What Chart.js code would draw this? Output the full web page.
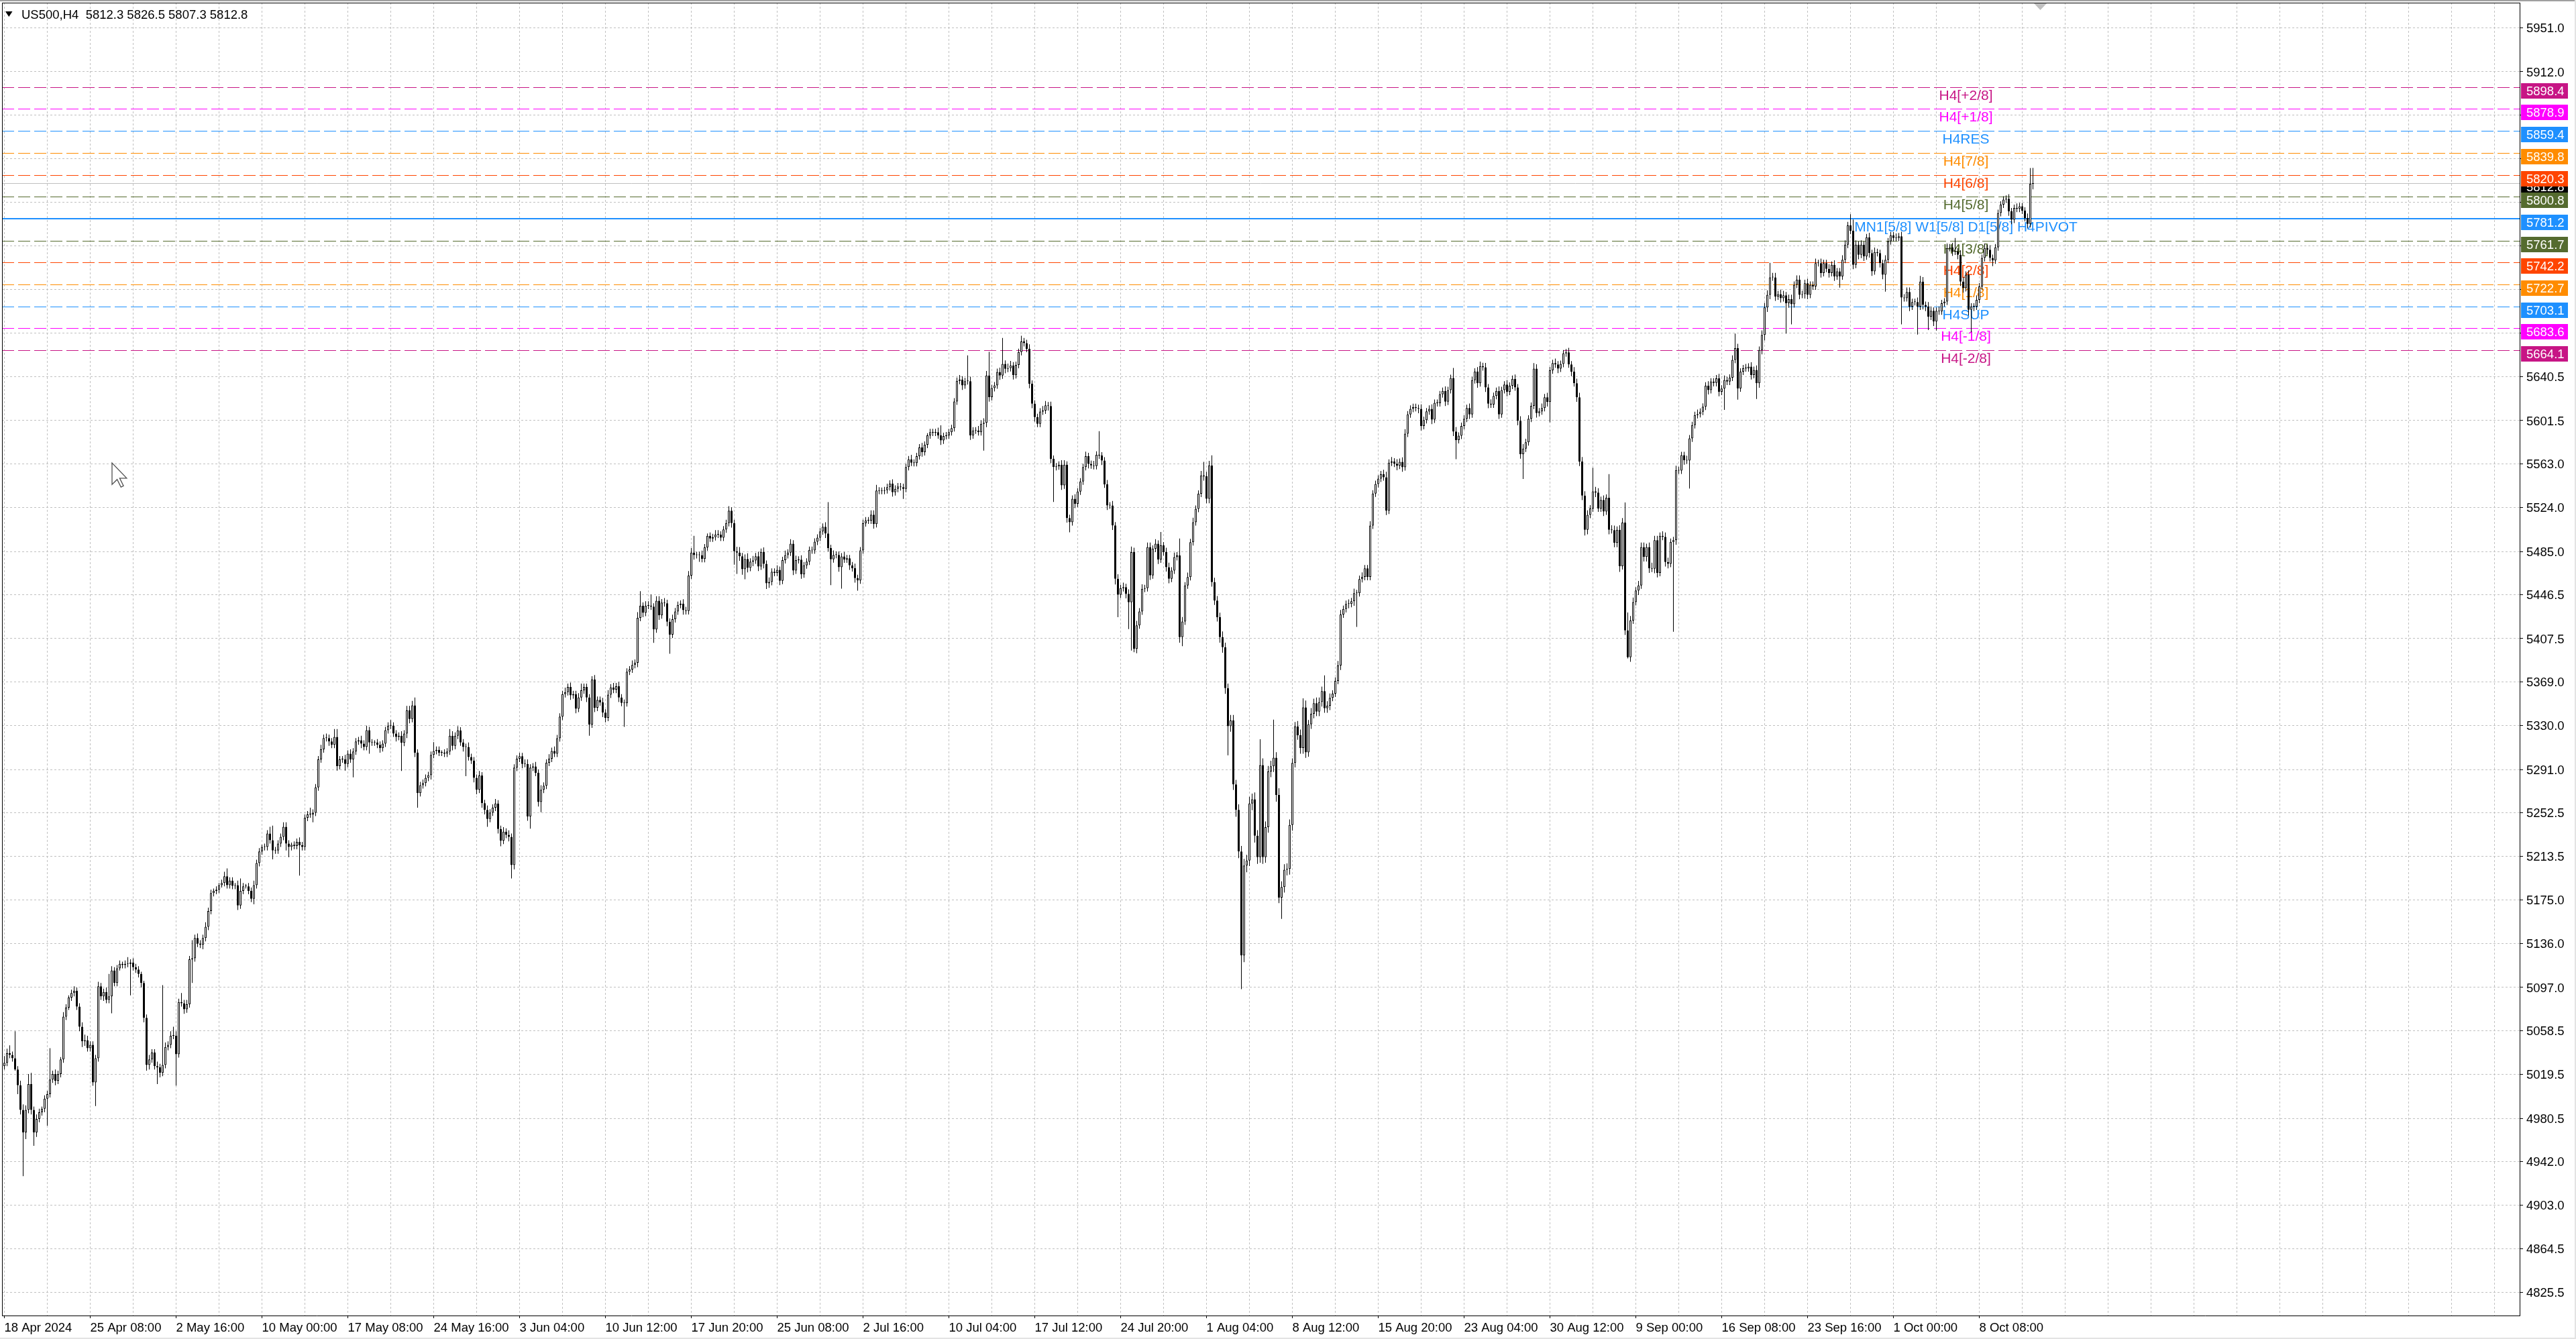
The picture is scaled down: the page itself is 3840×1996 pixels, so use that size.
<!DOCTYPE html>
<html><head><meta charset="utf-8">
<script src="https://cdn.jsdelivr.net/npm/chart.js@4.4.1/dist/chart.umd.min.js"></script>
<style>html,body{margin:0;padding:0;background:#fff;overflow:hidden}canvas{display:block}</style>
</head><body>
<canvas id="c" width="3840" height="1996" style="width:3840px;height:1996px"></canvas>
<script>
// ---------------- DATA ----------------
const symbolTitle = 'US500,H4  5812.3 5826.5 5807.3 5812.8';
const firstOpen = 5027;
const closes = [
5030,5038.5,5037,5034,5024,5010,4988,4968,4988,5011,4988,4968,4980,4986,4989,4998,
5002,5015,5020,5014,5020,5033,5071,5079,5088,5092,5094,5080,5062,5049,5050,5043,
5046,5012.5,5034,5098,5089,5093,5086,5089,5112,5101,5114,5118,5117,5118,5118,5119,
5115,5113,5109,5101,5070,5028,5033,5039,5027,5026,5021,5028,5044,5046,5054,5054,
5037.6,5084,5083,5077.5,5082,5122,5123,5141,5136,5135,5141,5151,5165,5181,5183,5184,
5188,5190,5196,5188,5192,5187.5,5188,5170,5183,5187,5187,5183,5176,5188,5207.7,5218,
5222,5222,5234,5228,5219,5219,5225,5231,5240,5225,5222,5224,5223,5226.5,5223.6,5222,
5248,5251,5251,5252.5,5275,5300,5309,5319,5319,5316,5313,5320,5294,5300,5300,5296,
5305,5300,5307,5316,5317,5314,5311,5326,5315,5315,5315,5313,5310,5314,5326,5330,
5330,5323,5320,5321,5314.7,5323,5343.6,5336,5348,5306,5270,5277,5279,5283.5,5286,5304,
5307.4,5308.5,5306,5306,5305,5307,5321,5312,5321,5325.6,5315,5311,5311,5302,5299,5283.5,
5273,5285.7,5261,5255,5247,5252.7,5257,5260.7,5238,5227.6,5235.6,5232.8,5231,5206,5292.6,5300.6,
5302.8,5296,5296,5249.3,5292.6,5293.7,5288,5262,5273,5276.6,5297,5300.6,5307.4,5305,5318.8,5338,
5358,5359.8,5364.4,5357,5358,5345,5355,5361.4,5364.4,5355,5331,5371,5346,5353,5350.7,5341.6,
5337,5357.6,5364,5362,5365,5355,5350.3,5350,5378,5380,5384,5386,5426,5436.7,5430.5,5436.7,
5436.7,5436,5415.7,5441.2,5428.2,5439.6,5439,5422.5,5411,5424.8,5431.7,5437.4,5438.5,5432.8,5432,5463.6,
5484,5481.8,5481.8,5481.8,5478.4,5488.7,5499,5496.6,5497.8,5500,5500,5497.3,5504.6,5510.3,5521.3,5510.3,
5485.2,5484,5480.7,5469.3,5478.4,5470.4,5476,5477,5480.7,5471.6,5484.6,5474,5456.7,5457.9,5467,5466,
5468.6,5459,5477.3,5481.8,5484,5492,5468,5477.3,5477.7,5464.7,5472.7,5476,5486.4,5486,5493.7,5497.3,
5502.8,5507,5501,5488,5478,5482,5482,5471,5480.6,5477.9,5479,5472.6,5470.2,5461.3,5459.2,5486,
5510.2,5512.6,5512.6,5517.7,5509.4,5539.3,5539,5539,5539.5,5542.3,5545.3,5537.8,5540.8,5542.9,5542.3,5540.8,
5560.1,5567,5564,5563.7,5569.9,5577.6,5573.4,5580,5588.3,5591.2,5590.7,5591.2,5588.3,5583.8,5587.7,5588.3,
5591.2,5594.8,5618.5,5636.9,5638.1,5632.8,5636.6,5636.6,5588.3,5592.7,5592.7,5591.2,5598.7,5599.6,5641.7,5622.4,
5630.4,5632.8,5644.7,5641.7,5652,5647.6,5648.2,5650.6,5642,5651,5662.5,5672,5670.5,5665.4,5634.3,5616.5,
5604.6,5598.7,5609.6,5610.5,5615,5614.4,5567.5,5560.1,5560.7,5562.2,5543.8,5562.2,5514.7,5511.1,5531.9,5527.5,
5538.4,5547.3,5560.1,5569.9,5563,5561.6,5561,5571.1,5570.5,5566,5544.7,5526,5526,5508.2,5460.7,5446.5,
5452.4,5453.3,5447.3,5439.9,5484.4,5398.4,5419.2,5431.6,5451.8,5452.4,5488.9,5463.7,5487.4,5491.9,5477.9,5490.4,
5484.4,5471.1,5460.7,5468.1,5480,5481.5,5408.8,5422.7,5454.8,5462.2,5493.3,5511.1,5523,5536.4,5552.7,5552,
5531.9,5561.6,5457.7,5441.4,5426.6,5408.8,5399.9,5363.4,5329.6,5334.6,5277.8,5255,5218,5125.5,5205.5,5210,
5260.7,5264.5,5232,5213,5294.9,5213,5239.7,5289.2,5293.8,5301.4,5268.3,5177,5186.4,5201.7,5202.5,5241.6,
5296.8,5329.2,5321.5,5310.1,5346.3,5306.3,5331.1,5340.6,5350,5342.5,5351,5360.8,5345.5,5347.8,5354.7,5358.5,
5369.9,5383.6,5428.9,5433.8,5438.4,5438.4,5440.7,5447.9,5447.9,5460.5,5462.4,5470,5462.4,5508,5536.6,5545,
5549.9,5553.7,5551,5521.4,5564,5565.1,5563.2,5561.3,5564.8,5560,5589.9,5607,5612,5613.5,5612.7,5612,
5596.7,5602,5609.7,5612,5602.4,5617.3,5617,5624.9,5627.9,5618.4,5628.7,5639.4,5591.8,5584.2,5588,5596.7,
5603.2,5612.7,5607,5637.5,5645.1,5634.8,5650,5648.9,5631,5616.5,5615.8,5623.4,5627.9,5607,5628.7,5633.6,
5627.2,5632.5,5638.6,5631,5601.3,5571.6,5576.6,5582.3,5603.2,5614.6,5647.7,5608.2,5609.7,5612.7,5622.2,5618,
5646.2,5652.7,5651.5,5647.7,5651.9,5661.4,5662.2,5651.5,5645.1,5634.8,5622.2,5565.1,5534.7,5504.3,5517.6,5523.3,
5538.5,5537.4,5523.3,5530.9,5520.6,5532.8,5504.3,5504,5492.8,5504.3,5471.9,5510.7,5414.8,5390.9,5423.6,5440,
5450.3,5454.8,5489,5480.1,5489,5470,5469.7,5495,5466,5499,5498,5475.6,5474,5493.5,5495,5557.4,
5557,5570.7,5566.3,5566,5585.6,5597.5,5606.4,5607.3,5609.4,5613.9,5632.6,5628.7,5636.2,5635,5639.1,5627.2,
5630,5637.6,5636.2,5639.7,5655.5,5665.9,5630.2,5645.1,5648,5648,5649.5,5642.1,5646.6,5634.7,5664.4,5677.8,
5702.2,5713.5,5728.9,5729,5712,5714,5710.5,5713,5706,5709.6,5705.1,5722.4,5726.8,5713.5,5714.1,5723.8,
5713.5,5722.4,5720.9,5741.7,5741.7,5732.8,5741.7,5736.6,5732.8,5740.2,5729.8,5734.3,5729.8,5744.7,5758,5775.3,
5770.5,5740.2,5758,5749.1,5758,5747.6,5764.6,5750.6,5734.3,5751.5,5750.6,5741.7,5731.3,5744.7,5761,5766.4,
5764,5764,5765.5,5711.1,5710.5,5716,5703,5707,5707,5703,5725.3,5704.5,5703,5694.1,5699.2,5689.7,
5699.2,5698.6,5706,5707.5,5755.1,5755.7,5752,5752,5749.1,5725.3,5719.4,5731.3,5700.1,5703,5703,5709,
5720.9,5746.2,5755.1,5753.6,5746.2,5744,5755.7,5786.3,5793.7,5798.2,5799,5787.8,5780.3,5790.8,5790,5792.2,
5788.4,5781.8,5776.5,5812.3,5812.8
];
// upper wick above the body, in points
const wickUp = [
6,4,7,3,24,3,4,5,4,9,10,3,4,3,2,3,
3,28,3,4,3,2,4,3,2,3,4,3,3,4,5,4,
3,3,3,4,3,3,4,20,4,3,3,3,2,3,6,3,
4,3,3,2,2,3,4,3,3,4,3,71,4,3,4,8,
4,3,8,3,4,3,16,3,4,3,3,4,3,3,2,3,
2,3,4,7,3,3,2,4,11,3,2,3,3,4,3,3,
2,3,3,6,13,3,3,3,4,4,3,2,3,3,4,3,
3,3,6,3,3,3,4,3,4,3,3,7,7,3,3,4,
3,4,3,3,3,4,3,4,3,3,2,3,3,3,3,3,
5,3,3,3,4,3,4,4,4,7,3,3,3,3,3,3,
8,3,3,2,3,3,6,4,3,4,3,3,3,4,3,3,
3,4,3,3,4,3,3,4,3,3,4,3,4,3,3,3,
3,3,4,4,3,3,4,3,4,3,3,4,3,4,3,3,
3,4,3,4,3,3,4,6,3,3,3,3,4,3,3,4,
3,4,3,4,3,4,3,3,3,3,4,3,5,13,3,4,
4,10,3,4,4,3,4,3,3,4,3,3,3,4,3,4,
4,15,3,3,4,3,2,3,3,4,4,3,3,3,4,3,
3,4,5,3,4,5,3,4,3,4,3,4,3,4,3,3,
4,3,3,4,3,4,3,4,3,4,3,3,3,3,3,3,
3,3,4,28,3,4,3,3,3,4,3,3,3,4,3,3,
3,3,3,4,4,5,3,3,3,3,3,4,3,3,3,3,
3,3,4,3,3,3,4,3,2,3,3,3,4,9,3,3,
3,3,3,3,4,3,3,23,4,3,3,4,3,4,4,21,
3,3,3,4,23,3,4,4,3,3,3,5,3,3,4,3,
3,3,3,4,4,3,4,3,3,3,4,4,3,3,3,4,
3,3,3,4,3,3,4,3,21,3,3,4,3,4,3,4,
3,4,3,4,5,4,4,3,4,3,4,4,3,4,3,12,
3,4,4,3,4,3,15,4,3,4,3,4,3,3,4,12,
4,4,9,4,4,4,5,4,4,5,5,4,5,5,6,5,
6,5,6,5,23,6,5,5,5,34,5,6,5,5,5,5,
4,4,5,5,8,6,4,5,4,5,4,4,14,4,4,3,
3,4,4,3,3,4,3,4,3,3,4,3,3,4,3,3,
3,3,4,5,3,4,3,4,3,4,4,3,3,3,3,3,
4,3,3,3,4,3,3,3,3,4,3,3,9,4,3,3,
3,3,4,3,3,4,4,3,4,3,4,3,3,4,3,3,
4,3,3,4,3,4,4,3,3,3,5,4,3,4,3,4,
3,3,4,3,3,3,3,4,3,4,4,4,4,4,4,3,
21,4,4,3,4,3,21,4,4,3,4,4,18,16,4,4,
3,4,4,4,3,4,5,4,4,3,4,4,4,3,3,4,
3,3,3,4,3,3,3,4,3,3,3,4,3,3,3,4,
3,4,3,3,4,13,4,3,3,4,3,4,3,4,3,4,
4,4,13,4,4,3,4,4,3,4,4,3,4,4,3,3,
4,3,3,4,3,4,3,3,4,3,4,3,3,4,4,3,
10,10,4,3,4,3,3,4,3,4,3,3,3,4,3,3,
3,4,3,4,3,4,4,3,3,4,5,4,3,4,4,3,
3,4,3,3,4,3,4,12,3,4,4,3,4,3,3,4,
3,3,4,3,4,3,3,3,3,3,3,4,3,3,4,3,
3,3,4,14,13.7
];
// lower wick below the body, in points
const wickDown = [
3,3,3,3,1,8,4,39,6,3,4,12,4,3,3,3,
24,3,3,4,3,3,3,3,2,3,3,3,4,5,4,3,
3,3,21,3,3,4,3,3,15,3,3,2,3,3,3,28,
3,3,3,4,4,5,4,3,3,15,4,3,3,3,3,3,
28,3,3,4,3,3,21,3,3,3,4,3,3,3,3,3,
3,2,3,3,3,3,3,4,3,3,2,3,3,5,3,3,
3,3,3,3,8,3,3,3,3,6,9,3,3,3,27,3,
3,3,3,7,3,3,3,3,3,4,3,3,4,3,3,6,
3,3,16,3,3,4,3,3,10,3,3,3,4,3,3,3,
3,3,4,3,25,3,4,4,3,4,13,3,3,3,3,4,
3,3,3,3,3,3,3,4,3,3,3,4,26,3,3,4,
4,3,4,4,7,3,3,3,4,5,3,3,4,12,4,3,
3,4,3,4,11,3,3,4,9,3,3,3,3,3,3,3,
3,3,3,4,3,4,3,3,3,4,10,3,4,3,3,4,
4,3,3,3,3,4,3,21,3,3,3,3,4,3,4,3,
3,3,12,3,4,3,3,4,17,3,3,3,3,4,3,3,
3,4,3,6,3,3,3,3,3,3,3,3,3,3,3,4,
12,19,4,5,9,4,3,4,3,4,3,4,5,4,3,3,
3,4,3,3,3,3,4,3,3,4,3,3,3,3,3,3,
3,3,4,3,23,3,3,4,19,3,3,4,3,4,9,3,
3,3,3,3,4,3,3,3,3,3,3,4,3,3,3,9,
3,3,3,3,3,3,4,3,3,3,3,3,3,4,3,3,
3,3,3,3,3,4,3,3,4,3,3,3,3,24,4,4,
3,3,3,4,3,4,3,3,4,3,3,3,3,3,4,4,
4,3,3,3,3,4,4,31,3,3,4,3,4,9,3,4,
3,3,3,3,4,3,3,3,3,4,3,4,3,4,5,20,
3,3,4,24,43,3,4,3,3,3,3,4,3,3,4,3,
3,4,4,3,3,3,5,8,3,3,3,3,3,3,3,4,
4,4,4,4,4,5,5,5,26,5,5,6,6,30,6,6,
5,6,6,6,5,6,5,5,5,5,6,5,19,5,5,5,
5,4,4,5,5,5,4,4,4,4,4,4,4,4,4,3,
3,3,4,3,3,4,3,4,30,3,3,3,3,3,3,3,
3,3,3,4,3,3,3,4,3,4,3,3,3,3,3,4,
4,3,3,3,4,3,3,3,3,4,3,3,4,17,3,3,
3,3,4,3,3,4,3,3,4,4,3,3,3,4,3,3,
4,3,3,3,4,4,22,3,3,3,3,4,3,3,3,4,
18,3,3,4,3,3,3,3,4,3,4,4,4,5,4,3,
3,4,3,3,4,3,4,3,4,4,5,3,4,1,4,3,
3,4,3,4,4,4,3,4,4,3,3,4,4,3,80,4,
3,3,4,3,25,3,3,3,3,3,3,4,3,3,3,4,
3,19,3,3,3,3,10,3,3,3,3,4,3,14,4,4,
5,4,4,3,4,3,4,3,27,4,18,3,3,4,3,4,
4,3,3,3,3,4,3,3,4,3,4,3,10,3,3,3,
3,4,3,4,3,4,3,4,4,3,3,4,4,15,3,3,
3,3,3,24,3,3,4,3,3,25,3,4,4,12,3,4,
8,3,3,3,3,3,4,3,4,4,4,3,5,20,4,3,
3,3,3,4,3,5,3,3,3,3,3,4,4,3,3,3,
3,3,4,3,5
];
// one label every 32 bars
const timeLabels = ['18 Apr 2024','25 Apr 08:00','2 May 16:00','10 May 00:00','17 May 08:00','24 May 16:00',
  '3 Jun 04:00','10 Jun 12:00','17 Jun 20:00','25 Jun 08:00','2 Jul 16:00','10 Jul 04:00','17 Jul 12:00',
  '24 Jul 20:00','1 Aug 04:00','8 Aug 12:00','15 Aug 20:00','23 Aug 04:00','30 Aug 12:00','9 Sep 00:00',
  '16 Sep 08:00','23 Sep 16:00','1 Oct 00:00','8 Oct 08:00'];
const priceTicks = [5951.0,5912.0,5873.5,5834.5,5796.0,5757.0,5718.0,5679.5,5640.5,5601.5,5563.0,5524.0,
  5485.0,5446.5,5407.5,5369.0,5330.0,5291.0,5252.5,5213.5,5175.0,5136.0,5097.0,5058.5,5019.5,4980.5,
  4942.0,4903.0,4864.5,4825.5];
const levelPrices = [5898.4,5878.9,5859.4,5839.8,5820.3,5800.8,5781.2,5761.7,5742.2,5722.7,5703.1,5683.6,5664.1];
const levelNames = ['H4[+2/8]','H4[+1/8]','H4RES','H4[7/8]','H4[6/8]','H4[5/8]',
  'MN1[5/8] W1[5/8] D1[5/8] H4PIVOT','H4[3/8]','H4[2/8]','H4[1/8]','H4SUP','H4[-1/8]','H4[-2/8]'];
const currentPrice = 5812.8;

// ---------------- STYLE ----------------
const levelColors = ['#C71585','#FF00FF','#1E90FF','#FF8C00','#FF4500','#556B2F',
  '#1E90FF','#556B2F','#FF4500','#FF8C00','#1E90FF','#FF00FF','#C71585'];
const levelSolid = [false,false,false,false,false,false,true,false,false,false,false,false,false];
const FONT = '"Liberation Sans", Arial, sans-serif';
Chart.defaults.font.family = FONT;

// ---------------- BUILD OHLC ----------------
const N = closes.length;
const opens = closes.map((c, i) => i === 0 ? firstOpen : closes[i - 1]);
const highs = closes.map((c, i) => Math.max(opens[i], c) + wickUp[i]);
const lows = closes.map((c, i) => Math.min(opens[i], c) - wickDown[i]);
const bodyData = closes.map((c, i) => ({x: i, y: [opens[i], c]}));
const wickData = closes.map((c, i) => ({x: i, y: [lows[i], highs[i]]}));
const bodyFill = closes.map((c, i) => c >= opens[i] ? '#ffffff' : '#000000');

const mt4Plugin = {
  id: 'mt4',
  beforeDraw(chart) {
    const ctx = chart.ctx;
    ctx.save();
    ctx.fillStyle = '#ffffff';
    ctx.fillRect(0, 0, chart.width, chart.height);
    ctx.restore();
  },
  beforeDatasetsDraw(chart) {
    const {ctx, chartArea: a, scales: {x, y}} = chart;
    ctx.save();
    ctx.beginPath();
    ctx.rect(a.left, a.top, a.right - a.left, a.bottom - a.top);
    ctx.clip();
    const cy = Math.round(y.getPixelForValue(currentPrice)) + 0.5;
    ctx.strokeStyle = '#c0c0c0'; ctx.lineWidth = 1; ctx.setLineDash([]);
    ctx.beginPath(); ctx.moveTo(a.left, cy); ctx.lineTo(a.right, cy); ctx.stroke();
    levelPrices.forEach((p, k) => {
      const solid = levelSolid[k];
      const py = y.getPixelForValue(p);
      ctx.strokeStyle = levelColors[k];
      ctx.lineWidth = solid ? 2 : 1;
      ctx.setLineDash(solid ? [] : [18, 6]);
      const ly = solid ? Math.round(py) : Math.round(py) + 0.5;
      ctx.beginPath(); ctx.moveTo(a.left, ly); ctx.lineTo(a.right, ly); ctx.stroke();
    });
    ctx.setLineDash([]);
    ctx.font = '21px ' + FONT;
    ctx.textAlign = 'center';
    ctx.textBaseline = 'top';
    const lx = x.getPixelForValue(731);
    levelPrices.forEach((p, k) => {
      ctx.fillStyle = levelColors[k];
      ctx.fillText(levelNames[k], lx, Math.round(y.getPixelForValue(p)) + 3);
    });
    ctx.restore();
  },
  afterDraw(chart) {
    const {ctx, chartArea: a, scales: {x, y}} = chart;
    ctx.save();
    ctx.fillStyle = '#a0a0a0'; ctx.fillRect(0, 0, chart.width, 2);
    ctx.fillStyle = '#e3e3e3'; ctx.fillRect(0, chart.height - 2, chart.width, 2);
    ctx.fillRect(chart.width - 2, 0, 2, chart.height);
    ctx.fillStyle = '#000';
    ctx.fillRect(a.left, a.top, 1, a.bottom - a.top);
    ctx.fillRect(a.left, a.top, a.right - a.left, 1);
    ctx.font = '18.5px ' + FONT;
    ctx.textAlign = 'left';
    ctx.textBaseline = 'middle';
    const box = (p, color) => {
      const ly = Math.round(y.getPixelForValue(p));
      ctx.fillStyle = color;
      ctx.fillRect(a.right + 2, ly - 6, 70, 23);
      ctx.fillStyle = '#ffffff';
      ctx.fillText(p.toFixed(1), a.right + 10, ly + 6.5);
    };
    box(currentPrice, '#000000');
    levelPrices.forEach((p, k) => box(p, levelColors[k]));
    ctx.fillStyle = '#000';
    ctx.beginPath(); ctx.moveTo(8, 17); ctx.lineTo(18.5, 17); ctx.lineTo(13.25, 25); ctx.closePath(); ctx.fill();
    ctx.font = '18.5px ' + FONT;
    ctx.textBaseline = 'middle';
    ctx.fillText(symbolTitle, 32, 22.5);
    const sx = x.getPixelForValue(758.75);
    ctx.fillStyle = '#c0c0c0';
    ctx.beginPath(); ctx.moveTo(sx - 9.5, a.top + 1); ctx.lineTo(sx + 9.5, a.top + 1); ctx.lineTo(sx, a.top + 11); ctx.closePath(); ctx.fill();
    const mx = 167, my = 690, s = 1.9;
    const pts = [[0,0],[0,17],[4,13],[7,19],[9,18],[6,12],[11.5,12]];
    ctx.beginPath();
    pts.forEach((q, i) => { const px = mx + q[0] * s, py = my + q[1] * s; i ? ctx.lineTo(px, py) : ctx.moveTo(px, py); });
    ctx.closePath();
    ctx.fillStyle = '#ffffff'; ctx.fill();
    ctx.strokeStyle = '#505050'; ctx.lineWidth = 1.3; ctx.stroke();
    if (wickUp.length !== N || wickDown.length !== N) {
      ctx.fillStyle = 'red'; ctx.font = '40px ' + FONT;
      ctx.fillText('LEN ' + N + ' ' + wickUp.length + ' ' + wickDown.length, 400, 400);
    }
    ctx.restore();
  }
};

new Chart(document.getElementById('c'), {
  type: 'bar',
  data: {
    datasets: [
      {
        label: 'body', data: bodyData, order: 0, grouped: false,
        backgroundColor: bodyFill, borderColor: '#000000', borderWidth: 1,
        borderSkipped: false, barThickness: 3, minBarLength: 1, inflateAmount: 0
      },
      {
        label: 'wick', data: wickData, order: 1, grouped: false,
        backgroundColor: '#000000', borderWidth: 0, barThickness: 1, inflateAmount: 0
      }
    ]
  },
  options: {
    responsive: false,
    animation: false,
    devicePixelRatio: 1,
    layout: {padding: {left: 3, top: 4, right: 0, bottom: 0}},
    plugins: {legend: {display: false}, tooltip: {enabled: false}},
    events: [],
    scales: {
      x: {
        type: 'linear', position: 'bottom', offset: false,
        min: -0.875, max: 937.375,
        afterBuildTicks: (s) => {
          const t = [];
          for (let v = 0; v <= 928; v += 16) t.push({value: v});
          s.ticks = t;
        },
        afterFit: (s) => { s.height = 35; s.paddingLeft = 0; s.paddingRight = 0; },
        grid: {
          offset: false, color: '#c0c0c0', lineWidth: 1, drawTicks: true, tickLength: 4,
          tickColor: (c) => (c.tick && c.tick.value % 32 === 0 && c.tick.value / 32 < timeLabels.length) ? '#000000' : 'rgba(0,0,0,0)',
          tickBorderDash: []
        },
        border: {display: true, color: '#000000', width: 1, dash: [3, 3]},
        ticks: {
          autoSkip: false, maxRotation: 0, minRotation: 0, align: 'start', padding: 4,
          color: '#000000', font: {size: 18.5},
          callback: (v) => (v % 32 === 0 && v / 32 < timeLabels.length) ? timeLabels[v / 32] : ''
        }
      },
      y: {
        type: 'linear', position: 'right', beginAtZero: false,
        min: 4805.02, max: 5973.45,
        afterBuildTicks: (s) => { s.ticks = priceTicks.map(v => ({value: v})); },
        afterFit: (s) => { s.width = 84; s.paddingTop = 0; s.paddingBottom = 0; },
        grid: {color: '#c0c0c0', lineWidth: 1, drawTicks: true, tickLength: 5, tickColor: '#000000', tickBorderDash: []},
        border: {display: true, color: '#000000', width: 1, dash: [3, 3]},
        ticks: {
          padding: 5, labelOffset: 1.5, color: '#000000', font: {size: 18.5},
          callback: (v) => Number(v).toFixed(1)
        }
      }
    }
  },
  plugins: [mt4Plugin]
});
</script>
</body></html>
